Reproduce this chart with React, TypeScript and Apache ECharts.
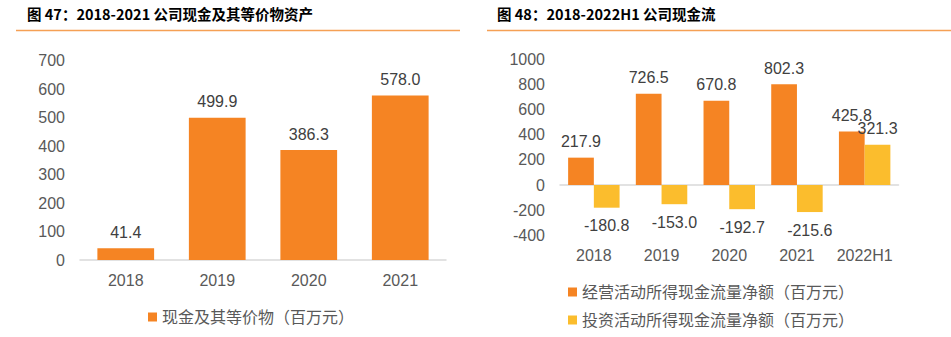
import React, { useEffect, useRef } from "react";
import * as echarts from "echarts";

const leftTitle = "图 47：2018-2021 公司现金及其等价物资产";
const rightTitle = "图 48：2018-2022H1 公司现金流";

const cashYears = ["2018", "2019", "2020", "2021"];
const cashValues = [41.4, 499.9, 386.3, 578.0];
const cashName = "现金及其等价物（百万元）";

const flowYears = ["2018", "2019", "2020", "2021", "2022H1"];
const operatingFlow = [217.9, 726.5, 670.8, 802.3, 425.8];
const investingFlow = [-180.8, -153.0, -192.7, -215.6, 321.3];
const operatingName = "经营活动所得现金流量净额（百万元）";
const investingName = "投资活动所得现金流量净额（百万元）";

const ORANGE = "#F58423";
const YELLOW = "#FBBD2D";
const AXIS_TEXT = "#595959";
const LABEL_TEXT = "#404040";
const FONT = "'Liberation Sans', Arial, 'Noto Sans CJK SC', sans-serif";
const CJK_FONT = "'Liberation Sans', Arial, 'Noto Sans CJK SC', sans-serif";

const fmt = (p: any) => Number(p.value).toFixed(1);
const plain = (v: number) => String(v);

export default function App() {
  const ref = useRef<HTMLDivElement>(null);
  useEffect(() => {
    if (!ref.current) return;
    const chart = echarts.init(ref.current, null, { renderer: "svg" });
    const valueLabel = {
      show: true,
      position: "top",
      distance: 8,
      formatter: fmt,
      color: LABEL_TEXT,
      fontSize: 16,
      fontFamily: FONT,
    };
    const legendText = { color: AXIS_TEXT, fontSize: 16, fontFamily: CJK_FONT };
    chart.setOption({
      animation: false,
      backgroundColor: "#ffffff",
      textStyle: { fontFamily: FONT },
      graphic: [
        {
          type: "text",
          left: 27,
          top: 6,
          style: {
            text: leftTitle,
            font: "bold 14.5px 'Noto Sans CJK SC', sans-serif",
            fill: "#000000",
          },
        },
        {
          type: "text",
          left: 497,
          top: 6,
          style: {
            text: rightTitle,
            font: "bold 14.5px 'Noto Sans CJK SC', sans-serif",
            fill: "#000000",
          },
        },
        {
          type: "line",
          shape: { x1: 16, y1: 30.5, x2: 460, y2: 30.5 },
          style: { stroke: "#F5A055", lineWidth: 1.5 },
        },
        {
          type: "line",
          shape: { x1: 487, y1: 30.5, x2: 951, y2: 30.5 },
          style: { stroke: "#F5A055", lineWidth: 1.5 },
        },
      ],
      legend: [
        {
          data: [cashName],
          left: 143,
          top: 304,
          icon: "rect",
          itemWidth: 9,
          itemHeight: 9,
          itemGap: 10,
          textStyle: legendText,
        },
        {
          data: [operatingName, investingName],
          left: 563,
          top: 279,
          orient: "vertical",
          icon: "rect",
          itemWidth: 9,
          itemHeight: 9,
          itemGap: 12,
          textStyle: legendText,
        },
      ],
      grid: [
        { left: 80, top: 60.7, width: 366, height: 199.3 },
        { left: 560, top: 59.5, width: 338.5, height: 175.7 },
      ],
      xAxis: [
        {
          type: "category",
          gridIndex: 0,
          data: cashYears,
          axisTick: { show: false },
          axisLine: { lineStyle: { color: "#D9D9D9", width: 1.5 } },
          axisLabel: { color: AXIS_TEXT, fontSize: 16, margin: 12, fontFamily: FONT, interval: 0 },
        },
        {
          type: "category",
          gridIndex: 1,
          data: flowYears,
          axisTick: { show: false },
          axisLine: { show: false, onZero: false },
          axisLabel: { color: AXIS_TEXT, fontSize: 16, margin: 12, fontFamily: FONT, interval: 0 },
        },
        {
          type: "category",
          gridIndex: 1,
          data: flowYears,
          position: "bottom",
          axisTick: { show: false },
          axisLabel: { show: false },
          axisLine: { show: true, onZero: true, lineStyle: { color: "#D9D9D9", width: 1.5 } },
        },
      ],
      yAxis: [
        {
          type: "value",
          gridIndex: 0,
          min: 0,
          max: 700,
          interval: 100,
          splitLine: { show: false },
          axisLine: { show: false },
          axisTick: { show: false },
          axisLabel: { color: AXIS_TEXT, fontSize: 16, margin: 15, fontFamily: FONT, formatter: plain },
        },
        {
          type: "value",
          gridIndex: 1,
          min: -400,
          max: 1000,
          interval: 200,
          splitLine: { show: false },
          axisLine: { show: false },
          axisTick: { show: false },
          axisLabel: { color: AXIS_TEXT, fontSize: 16, margin: 15, fontFamily: FONT, formatter: plain },
        },
      ],
      series: [
        {
          name: cashName,
          type: "bar",
          xAxisIndex: 0,
          yAxisIndex: 0,
          data: cashValues,
          barWidth: "62%",
          itemStyle: { color: ORANGE },
          label: valueLabel,
        },
        {
          name: operatingName,
          type: "bar",
          xAxisIndex: 1,
          yAxisIndex: 1,
          data: operatingFlow,
          barWidth: "38%",
          barGap: "0%",
          itemStyle: { color: ORANGE },
          label: valueLabel,
        },
        {
          name: investingName,
          type: "bar",
          xAxisIndex: 1,
          yAxisIndex: 1,
          data: investingFlow.map((v) => ({
            value: v,
            label: { position: v < 0 ? "bottom" : "top", distance: v < 0 ? 10 : 8 },
          })),
          barWidth: "38%",
          barGap: "0%",
          itemStyle: { color: YELLOW },
          label: valueLabel,
        },
      ],
    });
    return () => chart.dispose();
  }, []);
  return (
    <div
      ref={ref}
      style={{ position: "absolute", left: 0, top: 0, width: 951, height: 337 }}
    />
  );
}
